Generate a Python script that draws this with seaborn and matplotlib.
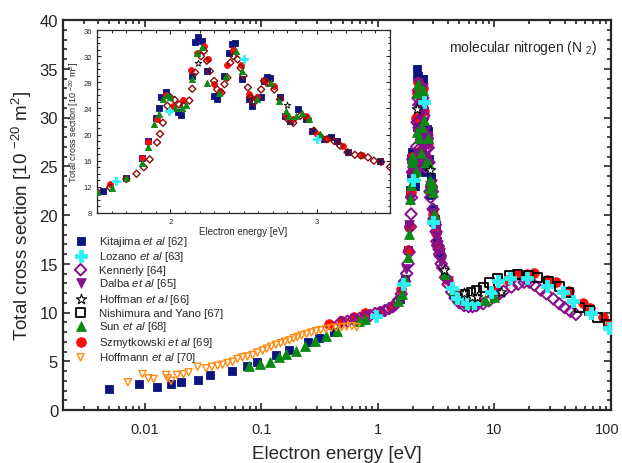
import numpy as np
import matplotlib
matplotlib.use("Agg")
import matplotlib.pyplot as plt
import matplotlib.transforms as mtransforms
import seaborn as sns
from matplotlib.ticker import MultipleLocator, LogLocator, NullFormatter, FixedLocator

# -------------------------- data --------------------------
# Kitajima et al [62]
kit_e = [0.00495, 0.0089, 0.0128, 0.0169, 0.0207, 0.0288, 0.0367, 0.056, 0.0755, 0.0925,
         0.134, 0.173, 0.254, 0.313, 0.421,
         1.54, 1.70, 1.81, 1.85, 1.90, 1.92, 1.94, 1.97, 2.05, 2.07, 2.15, 2.17, 2.19, 2.22,
         2.25, 2.30, 2.32, 2.37, 2.40, 2.42, 2.44, 2.49, 2.54, 2.56, 2.62, 2.64, 2.66, 2.68,
         2.75, 2.78, 2.82, 2.87, 2.93, 2.97, 3.05, 3.10, 3.14, 3.21, 3.43]
kit_y = [2.2, 2.67, 2.4, 2.67, 2.84, 3.08, 3.59, 4.03, 4.5, 4.95,
         5.67, 6.19, 6.94, 7.35, 7.97,
         11.4, 13.4, 16.4, 19.0, 22.6, 24.1, 25.8, 26.5, 23.4, 23.0, 29.0, 34.1, 35.0, 34.3,
         29.7, 25.9, 25.4, 29.0, 32.5, 33.9, 34.0, 28.5, 25.4, 24.4, 25.7, 28.2, 28.8, 28.6,
         25.7, 22.9, 22.1, 23.9, 22.4, 20.6, 19.3, 19.6, 19.0, 17.3, 16.0]

# Lozano et al [63]
loz_e = [0.97, 1.63, 1.99, 2.50, 3.0, 4.3, 4.75, 5.8, 6.7, 9.4, 10.8, 13.6, 19.0, 28.5, 38.5, 47.5, 67, 96]
loz_y = [9.67, 12.9, 23.6, 31.6, 19.3, 12.48, 11.46, 10.97, 10.97, 12.13, 13.26, 13.5, 13.5, 12.68,
         12.13, 11.15, 10.0, 8.4]

# Kennerly [64]
ken_e = [0.48, 0.55, 0.62, 0.70, 0.78, 0.86, 0.95, 1.05, 1.15, 1.25, 1.35, 1.44,
         1.50, 1.59, 1.70, 1.77, 1.82, 1.86, 1.91, 1.93, 1.95, 1.98, 2.00, 2.03, 2.06, 2.09,
         2.13, 2.15, 2.17, 2.21, 2.23, 2.25, 2.27, 2.30, 2.32, 2.35, 2.37, 2.39, 2.41, 2.43,
         2.46, 2.48, 2.50, 2.53, 2.55, 2.57, 2.59, 2.62, 2.64, 2.66, 2.71, 2.75, 2.80, 2.84,
         2.89, 2.94, 2.98, 3.03, 3.07, 3.12, 3.16, 3.21, 3.26, 3.30, 3.35, 3.39, 3.44, 3.50,
         3.6, 3.8, 4.0, 4.3, 4.6, 5.0, 5.5, 6.0, 6.5, 7.0, 8.0, 9.0, 10, 11, 12, 14, 16, 18,
         20, 22, 25, 28, 32, 36, 40, 45, 50]
ken_y = [9.0, 9.1, 9.3, 9.4, 9.6, 9.7, 9.9, 10.0, 10.2, 10.4, 10.6, 10.9,
         11.25, 11.9, 13.2, 14.0, 15.0, 16.2, 18.8, 20.1, 21.8, 24.4, 25.7, 25.3, 24.6, 24.4,
         25.2, 27.0, 29.5, 32.0, 32.8, 31.3, 29.7, 28.2, 26.9, 26.4, 27.7, 28.7, 31.0, 32.0,
         31.5, 30.2, 29.0, 27.2, 25.7, 24.9, 25.4, 26.9, 28.2, 27.9, 26.9, 25.4, 22.4, 21.8,
         22.9, 22.4, 20.6, 19.6, 19.3, 19.0, 18.3, 17.3, 16.9, 16.8, 16.5, 16.0, 15.8, 15.0,
         14.6, 13.6, 12.9, 12.1, 11.5, 11.0, 10.7, 10.6, 10.6, 10.7, 10.9, 11.2, 11.6, 11.9,
         12.2, 12.6, 12.9, 13.1, 13.1, 12.8, 12.3, 11.9, 11.4, 10.9, 10.5, 10.1, 9.8]

# Dalba et al [65]
dal_e = [1.75, 1.85, 1.90, 1.95, 2.00, 2.05, 2.10, 2.15, 2.20, 2.25, 2.30, 2.35, 2.40, 2.45,
         2.50, 2.55, 2.60, 2.65, 2.70, 2.80, 2.90, 3.00, 3.20, 3.50, 4.00, 4.50]
dal_y = [14.5, 19.0, 21.5, 24.5, 25.5, 24.0, 24.6, 28.5, 33.5, 31.0, 27.5, 26.2, 30.5, 33.0,
         29.5, 25.8, 25.6, 28.0, 27.3, 23.0, 23.2, 20.2, 17.8, 15.2, 13.2, 11.9]

# Hoffman et al [66]
hof_e = [2.19, 2.80, 3.70, 5.5, 6.4, 7.1, 11.5]
hof_y = [30.9, 24.6, 14.4, 12.0, 11.6, 11.6, 12.1]

# Nishimura and Yano [67]
nis_e = [5.6, 6.3, 7.0, 8.1, 9.1, 10.7, 13.4, 15.9, 19.5, 23.5, 29, 36, 43, 54, 65, 77, 95]
nis_y = [11.9, 12.1, 12.24, 12.6, 13.1, 13.5, 13.8, 13.9, 13.8, 13.6, 13.2, 12.7, 12.07, 10.5,
         10.2, 9.5, 8.8]

# Sun et al [68]
sun_e = [0.079, 0.098, 0.119, 0.141, 0.162, 0.198, 0.24, 0.29, 0.357, 0.45, 0.689, 0.785,
         1.50, 1.60, 1.70, 1.81, 1.85, 1.89, 1.92, 1.95, 1.98, 2.00, 2.03, 2.08, 2.11, 2.15,
         2.18, 2.22, 2.25, 2.33, 2.38, 2.45, 2.49, 2.59, 2.69, 2.74, 2.79, 2.81, 2.86, 2.90,
         2.95, 3.02, 3.8, 4.4, 4.9, 5.9, 8.3, 10.0]
sun_y = [4.48, 4.72, 4.95, 5.4, 5.74, 6.08, 6.6, 7.1, 7.62, 8.1, 9.16, 9.33,
         11.2, 11.9, 13.3, 15.7, 18.1, 21.6, 23.1, 25.4, 26.0, 25.8, 24.1, 24.1, 24.5, 28.5,
         32.5, 33.4, 27.9, 26.4, 29.0, 32.8, 29.7, 25.4, 27.9, 25.2, 23.6, 22.8, 22.9, 23.3,
         22.4, 20.1, 14.0, 12.3, 11.5, 11.0, 11.3, 11.6]

# Szmytkowski et al [69]
szm_e = [0.381, 0.495, 0.62, 0.785, 1.05, 1.3,
         1.59, 1.81, 1.85, 1.91, 1.97, 2.02, 2.09, 2.14, 2.18, 2.23, 2.26, 2.30, 2.34, 2.39,
         2.43, 2.48, 2.54, 2.59, 2.65, 2.71, 2.79, 2.84, 2.93, 3.00, 3.07, 3.18, 3.31,
         4.0, 5.0, 7.0, 10, 13, 16, 19, 22, 28.5, 34, 44, 58, 66, 85, 99]
szm_y = [8.82, 9.16, 9.5, 10.0, 10.2, 10.6,
         12.4, 16.4, 18.8, 22.4, 26.0, 24.3, 25.3, 29.9, 32.5, 33.6, 31.5, 27.7, 26.7, 30.7,
         33.0, 30.7, 26.2, 25.8, 28.2, 27.4, 23.0, 22.4, 22.9, 20.1, 19.3, 18.2, 16.8,
         13.3, 11.5, 11.2, 12.2, 13.3, 13.9, 14.0, 14.1, 13.3, 13.1, 12.2, 11.0, 10.5, 9.5, 8.7]

# Hoffmann et al [70]
hfm_e = [0.0072, 0.0096, 0.0108, 0.012, 0.0153, 0.0158, 0.0169, 0.019, 0.0215, 0.0239,
         0.0286, 0.0337, 0.0379, 0.0423, 0.0467, 0.0515, 0.0569, 0.0627, 0.0692, 0.0764,
         0.0843, 0.0929, 0.103, 0.112, 0.122, 0.134, 0.147, 0.16, 0.175, 0.19, 0.205, 0.223,
         0.245, 0.27, 0.295, 0.325, 0.36, 0.4, 0.44, 0.49, 0.54, 0.6, 0.66]
hfm_y = [2.84, 3.69, 3.25, 3.18, 3.59, 3.25, 3.0, 3.59, 3.66, 3.87,
         4.44, 4.27, 4.44, 4.54, 4.65, 4.82, 4.95, 5.23, 5.4, 5.5,
         5.64, 5.9, 6.1, 6.3, 6.5, 6.7, 6.85, 7.0, 7.15, 7.35, 7.5, 7.65,
         7.8, 7.95, 8.1, 8.2, 8.3, 8.4, 8.45, 8.5, 8.55, 8.6, 8.5]

# -------------------------- style --------------------------
sns.set_style("ticks")
plt.rcParams['font.family'] = ['Liberation Sans', 'DejaVu Sans']
plt.rcParams['mathtext.fontset'] = 'custom'
plt.rcParams['mathtext.rm'] = 'Liberation Sans'
plt.rcParams['mathtext.it'] = 'Liberation Sans:italic'
plt.rcParams['axes.unicode_minus'] = False

fig = plt.figure(figsize=(6.22, 4.64), dpi=100)
ax = fig.add_axes([63/622, 1-411/464, 548/622, 390/464])


def draw(a, e, y, marker, color, size, label=None, open_=False, face=None, lw=0.6, z=2):
    sns.scatterplot(x=e, y=y, ax=a, marker=marker, s=size, color=color,
                    edgecolor=color, linewidth=lw, label=label, legend=False, zorder=z)
    coll = a.collections[-1]
    if open_:
        coll.set_facecolor(face if face else 'none')
        coll.set_edgecolor(color)
        coll.set_linewidth(lw)
    return coll


navy, cyan, purple = '#0c1480', '#2ef2f2', '#86108a'
green, red, orange = '#0a8a12', '#ff0a0a', '#ff8a10'

h = {}
h['kit'] = draw(ax, kit_e, kit_y, 's', navy, 40, r'Kitajima $\mathit{et\ al}$ [62]', z=2)
h['szm'] = draw(ax, szm_e, szm_y, 'o', red, 48, r'Szmytkowski $\mathit{et\ al}$ [69]', z=3)
h['ken'] = draw(ax, ken_e, ken_y, 'D', purple, 34, 'Kennerly [64]', open_=True, lw=1.4, z=4)
h['dal'] = draw(ax, dal_e, dal_y, 'v', purple, 48, r'Dalba $\mathit{et\ al}$ [65]', z=5)
h['sun'] = draw(ax, sun_e, sun_y, '^', green, 50, r'Sun $\mathit{et\ al}$ [68]', z=6)
h['hfm'] = draw(ax, hfm_e, hfm_y, 'v', orange, 26, r'Hoffmann $\mathit{et\ al}$ [70]', open_=True, lw=1.0, z=7)
h['nis'] = draw(ax, nis_e, nis_y, 's', 'black', 40, 'Nishimura and Yano [67]', open_=True, lw=1.3, z=8)
h['loz'] = draw(ax, loz_e, loz_y, 'P', cyan, 70, r'Lozano $\mathit{et\ al}$ [63]', z=9)
h['hof'] = draw(ax, hof_e, hof_y, '*', 'black', 60, r'Hoffman $\mathit{et\ al}$ [66]', open_=True, face='white', lw=0.8, z=10)

ax.set_xscale('log')
ax.set_xlim(0.002, 100)
ax.set_ylim(0, 40)
ax.set_xticks([0.01, 0.1, 1, 10, 100])
ax.set_xticklabels(['0.01', '0.1', '1', '10', '100'])
ax.xaxis.set_minor_locator(LogLocator(base=10, subs=np.arange(2, 10), numticks=20))
ax.xaxis.set_minor_formatter(NullFormatter())
ax.yaxis.set_major_locator(MultipleLocator(5))
ax.yaxis.set_minor_locator(MultipleLocator(1))
ax.tick_params(which='both', direction='in', top=True, right=True, width=1.2)
ax.tick_params(which='major', length=5, labelsize=12)
ax.tick_params(which='minor', length=3)
ax.tick_params(axis='x', which='major', pad=9, labelsize=10.5)
for sp in ax.spines.values():
    sp.set_linewidth(1.6)
# keep the last x label inside the figure
last = ax.get_xticklabels()[-1]
last.set_transform(last.get_transform() + mtransforms.ScaledTranslation(-3/72, 0, fig.dpi_scale_trans))
ax.set_xlabel('Electron energy [eV]', fontsize=13.5, labelpad=6)
ax.set_ylabel(r'Total cross section [10 $^{-20}$ m$^{2}$]', fontsize=13.5, labelpad=4)
ax.text(0.975, 0.93, r'molecular nitrogen (N $_{2}$)', transform=ax.transAxes,
        ha='right', va='center', fontsize=10)

order = ['kit', 'loz', 'ken', 'dal', 'hof', 'nis', 'sun', 'szm', 'hfm']
ax.legend([h[k] for k in order], [h[k].get_label() for k in order], loc='upper left',
          bbox_to_anchor=(0.005, 0.47), frameon=False, fontsize=8.2, labelspacing=0.14,
          handletextpad=0.9, borderaxespad=0.2, handlelength=1.4)

# -------------------------- inset --------------------------
ins = fig.add_axes([97/622, 1-214/464, 293/622, 183/464])
draw(ins, kit_e, kit_y, 's', navy, 16, z=2)
draw(ins, szm_e, szm_y, 'o', red, 18, z=3)
draw(ins, ken_e, ken_y, 'D', '#8b0a0a', 13, open_=True, lw=1.0, z=4)
draw(ins, sun_e, sun_y, '^', green, 20, z=5)
draw(ins, loz_e, loz_y, 'P', cyan, 34, z=6)
draw(ins, hof_e, hof_y, '*', 'black', 24, open_=True, face='white', lw=0.6, z=7)
ins.set_xlim(1.5, 3.5)
ins.set_ylim(8, 36)
ins.xaxis.set_major_locator(FixedLocator([2, 3]))
ins.xaxis.set_minor_locator(MultipleLocator(0.1))
ins.yaxis.set_major_locator(MultipleLocator(4))
ins.yaxis.set_minor_locator(MultipleLocator(1))
ins.tick_params(which='both', direction='in', top=True, right=True, width=0.8, labelsize=5.5)
ins.tick_params(which='major', length=3)
ins.tick_params(which='minor', length=1.8)
for sp in ins.spines.values():
    sp.set_linewidth(0.9)
ins.set_xlabel('Electron energy [eV]', fontsize=7, labelpad=1)
ins.set_ylabel(r'Total cross section [10 $^{-20}$ m$^{2}$]', fontsize=6.5, labelpad=2)

fig.savefig('out.png', dpi=100)
